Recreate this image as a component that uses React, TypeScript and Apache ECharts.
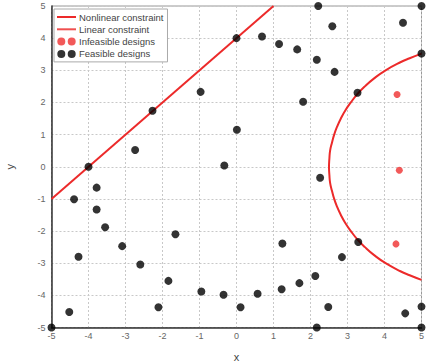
import React, { useEffect, useRef } from "react";
import * as echarts from "echarts";

const xTicks = [-5, -4, -3, -2, -1, 0, 1, 2, 3, 4, 5];
const yTicks = [-5, -4, -3, -2, -1, 0, 1, 2, 3, 4, 5];

const nonlinearConstraint: [number, number][] = [
  [5.0, 3.52], [4.68, 3.375], [4.43, 3.25], [4.03, 3.0], [3.72, 2.75], [3.47, 2.5], [3.26, 2.25],
  [3.09, 2.0], [2.94, 1.75], [2.82, 1.5], [2.72, 1.25], [2.64, 1.0], [2.58, 0.75], [2.53, 0.5],
  [2.51, 0.25], [2.5, 0],
  [2.51, -0.25], [2.53, -0.5], [2.58, -0.75], [2.64, -1.0], [2.72, -1.25], [2.82, -1.5],
  [2.94, -1.75], [3.09, -2.0], [3.26, -2.25], [3.47, -2.5], [3.72, -2.75], [4.03, -3.0],
  [4.43, -3.25], [4.68, -3.375], [5.0, -3.52],
];

const linearConstraint: [number, number][] = [
  [-5, -1], [1, 5],
];

const infeasible: [number, number][] = [
  [4.34, 2.25], [4.4, -0.11], [4.31, -2.4],
];

const feasible: [number, number][] = [
  [2.21, 5.0], [5.0, 5.0], [2.59, 4.37], [4.5, 4.48], [0.0, 4.0], [0.69, 4.05], [1.15, 3.82],
  [1.64, 3.65], [2.17, 3.33], [2.65, 2.95], [5.0, 3.52], [3.27, 2.3], [-0.97, 2.33], [1.8, 2.02],
  [-2.27, 1.74], [0.01, 1.15], [-2.74, 0.52], [-4.0, 0.0], [-0.33, 0.04], [2.26, -0.34],
  [-3.78, -0.65], [-4.39, -1.01], [-3.78, -1.33], [-3.55, -1.88], [-1.65, -2.1], [-3.09, -2.47],
  [1.24, -2.39], [3.29, -2.34], [-4.27, -2.8], [-2.6, -3.04], [2.85, -2.81], [-1.84, -3.55],
  [2.13, -3.4], [1.7, -3.62], [1.22, -3.81], [-0.95, -3.88], [-0.35, -3.98], [0.57, -3.95],
  [-2.11, -4.37], [0.11, -4.37], [2.48, -4.36], [-4.52, -4.52], [4.56, -4.56], [5.0, -4.35],
  [-5.0, -5.0], [2.17, -5.0], [5.0, -5.0],
];

const seriesNames = ["Nonlinear constraint", "Linear constraint", "Infeasible designs", "Feasible designs"];

const twoDots = "path://M0,5a5,5 0 1,0 10,0a5,5 0 1,0 -10,0M13,5a5,5 0 1,0 10,0a5,5 0 1,0 -10,0";
const lineIcon = "path://M0,0h19v2h-19z";
const FONT = "Liberation Sans";

export default function App() {
  const ref = useRef<HTMLDivElement>(null);
  useEffect(() => {
    if (!ref.current) return;
    const chart = echarts.init(ref.current, null, { renderer: "svg" });
    const axisCommon = {
      type: "value" as const,
      min: xTicks[0],
      max: xTicks[xTicks.length - 1],
      interval: 1,
      nameLocation: "middle" as const,
      nameTextStyle: { color: "#444", fontSize: 11, fontFamily: FONT },
      axisLine: { show: true, onZero: false, lineStyle: { color: "#333", width: 1.5 } },
      axisTick: { show: false },
      axisLabel: { color: "#666", fontSize: 9, fontFamily: FONT },
      splitLine: { show: true, lineStyle: { color: "#c8c8c8", type: [2, 2] as any, width: 1 } },
    };
    chart.setOption({
      animation: false,
      backgroundColor: "#fff",
      grid: {
        left: 51.5, right: 19.5, top: 6, bottom: 35.5, show: true, borderColor: "#999", borderWidth: 1,
        containLabel: false, outerBoundsMode: "none",
      },
      legend: {
        orient: "vertical",
        left: 54,
        top: 9,
        padding: [3, 4, 3, 3],
        itemGap: 2.3,
        itemWidth: 19,
        itemHeight: 8,
        borderColor: "#aaa",
        borderWidth: 1,
        backgroundColor: "#fff",
        textStyle: { color: "#444", fontSize: 9.5, fontFamily: FONT, padding: [0, 0, 0, -2] },
        data: [
          { name: seriesNames[0], icon: lineIcon, itemStyle: { color: "#ec2a2a" } },
          { name: seriesNames[1], icon: lineIcon, itemStyle: { color: "#ef5050" } },
          { name: seriesNames[2], icon: twoDots },
          { name: seriesNames[3], icon: twoDots },
        ],
      },
      xAxis: { ...axisCommon, name: "x", nameGap: 24, axisLabel: { ...axisCommon.axisLabel, margin: 4 } },
      yAxis: { ...axisCommon, min: yTicks[0], max: yTicks[yTicks.length - 1], name: "y", nameGap: 36, nameRotate: 90, axisLabel: { ...axisCommon.axisLabel, margin: 6 } },
      series: [
        {
          name: seriesNames[0], type: "line", data: nonlinearConstraint, smooth: true, showSymbol: false, symbol: "none",
          lineStyle: { color: "#ec2a2a", width: 2 }, itemStyle: { color: "#ec2a2a" }, z: 2,
        },
        {
          name: seriesNames[1], type: "line", data: linearConstraint, showSymbol: false, symbol: "none",
          lineStyle: { color: "#ec2a2a", width: 2 }, itemStyle: { color: "#ef5050" }, z: 2,
        },
        {
          name: seriesNames[2], type: "scatter", data: infeasible, symbolSize: 7,
          itemStyle: { color: "#ef3030" }, z: 3,
        },
        {
          name: seriesNames[3], type: "scatter", data: feasible, symbolSize: 8,
          itemStyle: { color: "#000" }, z: 3,
        },
      ],
    });
    return () => chart.dispose();
  }, []);
  return <div ref={ref} style={{ width: 441, height: 363, position: "absolute", left: 0, top: 0 }} />;
}
